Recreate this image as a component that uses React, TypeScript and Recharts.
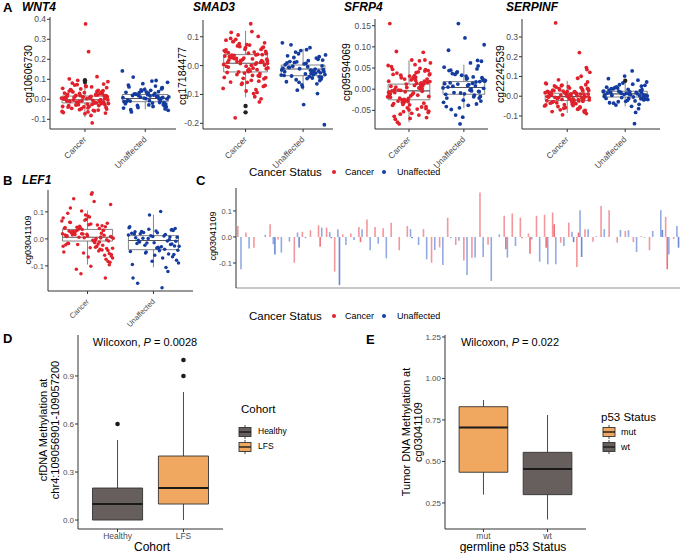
import React from "react";
import { ComposedChart, Scatter, Bar, XAxis, YAxis, ReferenceArea, ReferenceLine } from "recharts";

// ── Colours / fonts ──────────────────────────────────────────────────────────

const FONT = '"Liberation Sans", Arial, Helvetica, sans-serif';
const RED = "#e0212b";
const BLUE = "#143c9f";
const RED_BAR = "#e8414a";
const BLUE_BAR = "#3a62c9";
const ORANGE = "#f0a75f";
const DARK = "#675e5e";
const AXIS = "#333333";
const TICK = "#4d4d4d";

const STATUS = ["Cancer", "Unaffected"];

// ── Jitter offsets (shared by the dot panels) ────────────────────────────────

const JIT_C = [
  -0.31, 0.12, 0.27, -0.05, 0.36, -0.22, 0.03, 0.18, -0.38, 0.31,
  -0.14, 0.08, -0.27, 0.22, 0.35, -0.09, -0.33, 0.15, 0.01, -0.19,
  0.29, -0.02, 0.38, -0.25, 0.1, -0.36, 0.2, -0.11, 0.33, -0.07,
  0.05, -0.29, 0.24, -0.17, 0.39, -0.03, 0.14, -0.34, 0.26, -0.12,
  0.07, 0.32, -0.24, 0.17, -0.39, 0.0, 0.28, -0.15, 0.11, -0.3,
  0.21, -0.06, 0.37, -0.21, 0.04, -0.35, 0.16, 0.3, -0.1, 0.25,
  -0.28, 0.09, -0.37, 0.19, -0.01, 0.34, -0.16, 0.13, -0.26, 0.23,
  -0.08, 0.36, -0.32, 0.02, 0.27, -0.2, 0.1, -0.04, 0.31, -0.23,
  0.06, -0.37, 0.18, 0.38, -0.13, 0.22, -0.3, 0.01, 0.33, -0.18,
  0.12, -0.26, 0.29, -0.09, 0.05, -0.34, 0.2, 0.35, -0.15, 0.24,
];
const JIT_U = [
  0.21, -0.33, 0.05, 0.36, -0.12, 0.28, -0.25, 0.14, -0.04, 0.32,
  -0.37, 0.09, 0.24, -0.18, 0.38, -0.08, 0.17, -0.29, 0.02, 0.3,
  -0.21, 0.11, -0.35, 0.26, -0.01, 0.35, -0.15, 0.07, -0.27, 0.19,
  0.33, -0.1, 0.23, -0.38, 0.12, -0.06, 0.29, -0.23, 0.04, 0.37,
  -0.31, 0.16, -0.13, 0.27, -0.02, 0.34, -0.2, 0.08, -0.36, 0.22,
  0.01, -0.28, 0.31, -0.16, 0.13, -0.07, 0.39, -0.24, 0.18, -0.11,
  0.25, -0.32, 0.06, 0.28,
];

// ── Panel A / B values ───────────────────────────────────────────────────────

const WNT4_C = [
  0.012, -0.025, 0.034, -0.008, 0.058, -0.045, 0.003, 0.021, -0.061, 0.076,
  -0.014, 0.009, -0.032, 0.045, 0.018, -0.052, 0.002, -0.019, 0.067, -0.004,
  0.027, -0.038, 0.088, -0.011, 0.015, -0.066, 0.039, -0.027, 0.005, 0.052,
  -0.043, 0.024, -0.007, 0.071, -0.021, 0.011, -0.055, 0.031, -0.002, 0.095,
  -0.035, 0.017, 0.048, -0.016, 0.006, -0.072, 0.036, -0.029, 0.062, -0.009,
  0.022, -0.047, 0.013, 0.081, -0.024, 0.001, -0.058, 0.043, -0.012, 0.028,
  -0.039, 0.008, 0.055, -0.018, 0.033, -0.069, 0.016, -0.005, 0.102, -0.031,
  0.019, -0.049, 0.004, 0.064, -0.022, 0.037, -0.081, 0.012, -0.013, 0.046,
  0.238, -0.036, 0.025, -0.003, 0.073, -0.054, 0.014, 0.377, -0.027, 0.009,
  -0.118, 0.041, -0.017, 0.029, -0.063, 0.007, 0.113, -0.041, 0.02, -0.009,
];
const WNT4_U = [
  0.014, -0.022, 0.031, 0.002, -0.041, 0.057, -0.009, 0.021, 0.078, -0.033,
  0.008, 0.045, -0.016, 0.027, -0.055, 0.011, 0.066, -0.004, 0.036, -0.027,
  0.019, 0.091, -0.012, 0.004, 0.049, -0.038, 0.025, -0.007, 0.062, 0.013,
  -0.048, 0.033, 0.001, 0.142, -0.019, 0.041, 0.009, -0.063, 0.023, 0.085,
  -0.011, 0.029, -0.031, 0.052, 0.006, -0.024, 0.111, 0.017, -0.044, 0.038,
  0.003, 0.071, -0.015, 0.026, -0.036, 0.047, 0.012, -0.052, 0.094, 0.018,
  -0.006, 0.035, -0.028, 0.058,
];
const SMAD3_C = [
  0.012, -0.034, 0.056, 0.021, -0.011, 0.083, -0.058, 0.037, 0.004, -0.072,
  0.068, -0.019, 0.029, 0.101, -0.042, 0.015, -0.003, 0.047, -0.088, 0.024,
  0.061, -0.026, 0.008, 0.115, -0.051, 0.033, -0.014, 0.076, 0.002, -0.065,
  0.043, 0.019, -0.037, 0.091, -0.008, 0.026, -0.097, 0.054, 0.011, -0.022,
  0.071, -0.046, 0.036, 0.005, -0.079, 0.062, 0.017, -0.031, 0.118, -0.005,
  0.039, -0.061, 0.022, 0.084, -0.017, 0.048, -0.108, 0.013, 0.066, -0.028,
  0.031, 0.145, -0.041, 0.009, 0.057, -0.069, 0.025, -0.009, 0.094, -0.054,
  0.018, 0.042, -0.024, 0.073, -0.115, 0.035, 0.001, -0.044, 0.064, 0.027,
  -0.012, 0.052, -0.083, 0.016, 0.106, -0.035, 0.045, -0.002, 0.079, -0.181,
  0.023, -0.057, 0.038, 0.007, -0.021, 0.088, -0.093, 0.049, 0.014, -0.126,
];
const SMAD3_U = [
  -0.012, -0.034, 0.008, -0.021, -0.049, 0.031, -0.006, -0.027, 0.052, -0.041,
  -0.015, 0.017, -0.063, -0.002, -0.031, 0.041, -0.018, -0.056, 0.006, -0.025,
  0.072, -0.038, -0.009, 0.022, -0.074, -0.014, 0.011, -0.045, 0.034, -0.023,
  -0.001, -0.085, 0.026, -0.033, 0.062, -0.011, -0.052, 0.014, -0.029, -0.205,
  0.003, -0.043, 0.047, -0.019, -0.067, 0.019, -0.036, -0.004, 0.079, -0.026,
  -0.135, 0.009, -0.047, 0.028, -0.016, -0.058, 0.037, -0.007, -0.031, 0.013,
  -0.097, -0.021, 0.055, -0.039,
];
const SFRP4_C = [
  -0.004, 0.021, -0.033, 0.012, -0.052, 0.038, -0.016, 0.003, 0.056, -0.041,
  0.027, -0.009, -0.064, 0.015, 0.044, -0.024, 0.007, -0.047, 0.031, -0.002,
  0.069, -0.029, 0.018, -0.071, 0.009, -0.013, 0.049, -0.036, 0.024, -0.006,
  -0.057, 0.035, 0.001, -0.021, 0.062, -0.044, 0.014, -0.011, 0.087, -0.031,
  0.026, -0.067, 0.005, 0.041, -0.018, -0.049, 0.019, -0.003, 0.058, -0.038,
  0.011, -0.026, 0.034, -0.078, 0.022, 0.155, -0.014, 0.046, -0.053, 0.008,
  -0.034, 0.029, -0.007, 0.067, -0.022, 0.016, -0.059, 0.039, -0.001, -0.042,
  0.024, -0.017, 0.053, -0.069, 0.013, -0.028, 0.032, 0.004, -0.046, 0.089,
  -0.012, 0.019, -0.061, 0.036, -0.025, 0.006, 0.047, -0.037, 0.017, -0.082,
  0.028, -0.008, 0.043, -0.031, 0.069, -0.019, 0.002, -0.055, 0.033, -0.005,
];
const SFRP4_U = [
  0.008, -0.012, 0.024, 0.002, 0.041, -0.021, 0.015, -0.004, 0.033, 0.066,
  -0.031, 0.011, 0.048, -0.008, 0.019, -0.044, 0.029, 0.005, 0.121, -0.017,
  0.037, -0.002, 0.013, 0.055, -0.026, 0.022, -0.061, 0.009, 0.044, -0.014,
  0.027, 0.155, -0.035, 0.003, 0.062, -0.009, 0.018, -0.048, 0.031, 0.105,
  -0.021, 0.014, 0.039, -0.005, -0.066, 0.025, 0.007, -0.038, 0.052, 0.017,
  -0.011, 0.092, -0.028, 0.035, 0.001, -0.082, 0.021, 0.045, -0.018, 0.012,
  0.068, -0.041, 0.026, -0.006,
];
const SERPINF_C = [
  0.004, -0.021, 0.027, -0.043, 0.011, 0.052, -0.012, -0.066, 0.018, -0.003,
  0.038, -0.029, 0.008, -0.054, 0.072, -0.016, 0.022, -0.038, 0.001, 0.046,
  -0.075, 0.015, -0.008, 0.031, -0.047, 0.063, -0.024, 0.006, -0.088, 0.026,
  0.009, -0.035, 0.044, -0.011, 0.121, -0.058, 0.017, -0.002, 0.034, -0.069,
  0.012, 0.058, -0.027, 0.003, -0.049, 0.024, -0.015, 0.083, -0.036, 0.007,
  0.221, -0.061, 0.029, -0.006, 0.041, -0.023, 0.014, -0.081, 0.053, -0.009,
  0.019, -0.041, 0.066, -0.018, 0.002, 0.135, -0.052, 0.023, -0.031, 0.011,
  -0.094, 0.036, -0.004, 0.048, -0.026, 0.371, -0.013, 0.016, -0.072, 0.028,
  0.005, -0.044, 0.091, -0.019, 0.032, -0.057, 0.013, -0.001, 0.145, -0.033,
  0.021, -0.078, 0.009, 0.056, -0.014, 0.025, -0.063, 0.039, -0.007, 0.101,
];
const SERPINF_U = [
  0.012, -0.011, 0.034, 0.003, -0.028, 0.051, 0.018, -0.004, 0.067, -0.019,
  0.026, 0.008, -0.041, 0.043, 0.001, 0.021, -0.024, 0.089, 0.014, -0.009,
  0.037, -0.051, 0.006, 0.028, 0.102, -0.015, 0.047, 0.011, -0.033, 0.019,
  -0.002, 0.058, -0.063, 0.024, 0.128, -0.007, 0.033, 0.004, -0.021, 0.072,
  0.016, -0.139, 0.041, -0.013, 0.009, 0.055, -0.035, 0.022, -0.001, 0.081,
  -0.026, 0.031, 0.007, -0.045, 0.061, 0.015, -0.017, 0.038, -0.082, 0.025,
  0.002, 0.046, -0.011, 0.019,
];
const LEF1_C = [
  0.012, -0.031, 0.045, 0.004, -0.058, 0.027, 0.081, -0.012, 0.019, -0.084,
  0.036, -0.005, 0.062, -0.041, 0.009, 0.103, -0.022, 0.051, -0.067, 0.016,
  -0.003, 0.073, -0.035, 0.024, 0.138, -0.049, 0.007, 0.041, -0.096, 0.018,
  0.055, -0.017, 0.031, -0.112, 0.002, 0.088, -0.028, 0.014, -0.061, 0.047,
  0.171, -0.008, 0.026, -0.045, 0.066, 0.011, -0.075, 0.033, -0.014, 0.095,
  0.021, -0.052, 0.005, 0.149, -0.033, 0.039, -0.019, 0.058, -0.129, 0.013,
  0.029, -0.006, 0.077, -0.038, 0.017, -0.087, 0.043, 0.001, 0.114, -0.024,
  0.035, -0.063, 0.009, 0.052, -0.145, 0.023, -0.011, 0.069, -0.043, 0.015,
  0.165, -0.027, 0.038, -0.071, 0.006, 0.049, -0.016, 0.084, -0.054, 0.028,
  -0.004, 0.061, -0.036, 0.019, -0.101, 0.042, 0.003, 0.127, -0.021, 0.032,
];
const LEF1_U = [
  -0.008, 0.021, -0.034, 0.006, -0.052, 0.035, -0.017, -0.071, 0.012, -0.026,
  0.041, -0.044, -0.003, 0.027, -0.089, 0.001, -0.038, 0.018, -0.061, 0.031,
  -0.012, 0.101, -0.047, -0.021, 0.009, -0.079, 0.024, -0.031, 0.004, -0.106,
  0.038, -0.015, -0.056, 0.014, -0.029, 0.088, -0.066, -0.005, 0.029, -0.042,
  -0.145, 0.011, -0.024, 0.033, -0.083, -0.009, 0.019, -0.036, 0.045, -0.121,
  -0.014, 0.026, -0.058, 0.002, -0.181, 0.036, -0.027, -0.164, 0.016, -0.049,
  0.007, -0.095, 0.023, -0.019,
];

// box stats: [lower whisker, q1, median, q3, upper whisker]
const WNT4_BOX = [[-0.09, -0.018, -0.002, 0.016, 0.076], [-0.05, -0.012, 0.004, 0.024, 0.062]];
const SMAD3_BOX = [[-0.11, -0.022, 0.008, 0.038, 0.12], [-0.085, -0.035, -0.012, 0.002, 0.058]];
const SFRP4_BOX = [[-0.078, -0.025, -0.004, 0.012, 0.068], [-0.045, -0.012, 0.004, 0.018, 0.058]];
const SERPINF_BOX = [[-0.085, -0.022, -0.002, 0.015, 0.078], [-0.052, -0.004, 0.012, 0.025, 0.08]];
const LEF1_BOX = [[-0.095, -0.008, 0.006, 0.035, 0.105], [-0.105, -0.04, -0.006, 0.012, 0.09]];

const WNT4_OUT = [{ x: 1, y: 0.095 }, { x: 1, y: 0.086 }];
const SMAD3_OUT = [{ x: 1, y: -0.14 }, { x: 1, y: -0.162 }];
const SERPINF_OUT = [{ x: 2, y: 0.078 }];

// ── Panel C values (per site, two cancer / two unaffected traces) ────────────

const C_C1 = [
  0.042, 0.017, -0.041, null, 0.049, -0.01, null, -0.099, 0.02, 0.026,
  0.045, 0.036, -0.133, 0.01, 0.013, 0.038, 0.067, 0.038, 0.033, 0.055,
  -0.051, 0.042, null, 0.03, -0.099, -0.04, 0.074, -0.031, -0.09, -0.08,
  0.171, -0.03, null, 0.081, 0.09, 0.074, 0.013, 0.081, 0.085, 0.094,
  -0.022, 0.055, -0.115, 0.03, -0.018, 0.119, 0.103, -0.022, 0.023, -0.02,
  0.003, -0.051, null, 0.077, -0.008,
];
const C_C2 = [
  null, null, null, null, null, null, null, null, null, null,
  -0.038, null, null, null, null, -0.02, null, null, null, null,
  null, null, null, null, null, null, null, null, null, null,
  null, null, null, -0.047, null, -0.005, -0.064, null, -0.041, 0.049,
  null, null, 0.017, null, null, null, null, null, null, null,
  null, null, null, -0.124, null,
];
const C_U1 = [
  -0.124, -0.044, null, 0.008, -0.028, -0.06, -0.018, 0.017, -0.005, null,
  0.036, 0.018, 0.03, -0.031, -0.012, 0.03, -0.051, -0.026, -0.082, null,
  null, 0.03, -0.031, -0.086, -0.05, -0.108, -0.005, -0.015, -0.146, -0.079,
  -0.077, -0.169, 0.01, -0.079, -0.035, null, -0.01, -0.095, -0.105, -0.105,
  -0.035, 0.02, 0.103, 0.03, 0.003, 0.03, null, 0.027, 0.026, -0.058,
  -0.003, 0.023, 0.103, -0.067, 0.042,
];
const C_U2 = [
  null, null, null, null, -0.067, null, null, -0.04, null, null,
  null, -0.005, -0.185, null, null, null, null, null, null, null,
  null, -0.005, null, null, null, null, null, null, null, null,
  null, null, null, null, null, null, null, null, null, null,
  null, -0.02, -0.077, null, null, null, null, null, null, null,
  null, null, 0.027, null, -0.041,
];

// ── Panels D / E values ──────────────────────────────────────────────────────

const D_GROUPS = ["Healthy", "LFS"];
const D_STATS = [[0, 0, 0.1, 0.2, 0.5], [0, 0.1, 0.2, 0.4, 0.8]];
const D_OUT = [{ x: 1, y: 0.6 }, { x: 2, y: 0.9 }, { x: 2, y: 1.0 }];

const E_GROUPS = ["mut", "wt"];
const E_STATS = [[0.3, 0.435, 0.705, 0.83, 0.87], [0.15, 0.3, 0.455, 0.555, 0.78]];

// ── Helpers ──────────────────────────────────────────────────────────────────

const toPts = (ys: number[], jit: number[], cx: number) =>
  ys.map((y, i) => ({ x: cx + jit[i % jit.length], y }));

const dot = (r: number, color: string) => (p: any) =>
  p.cx == null ? <g /> : <circle cx={p.cx} cy={p.cy} r={r} fill={color} />;

function boxMarks(key: string, cx: number, s: number[], hw: number, stroke: string, fill: string, sw: number, medStroke: string, medW: number) {
  const [lo, q1, med, q3, hi] = s;
  return [
    <ReferenceLine key={key + "w1"} segment={[{ x: cx, y: lo }, { x: cx, y: q1 }]} stroke={stroke} strokeWidth={sw} />,
    <ReferenceLine key={key + "w2"} segment={[{ x: cx, y: q3 }, { x: cx, y: hi }]} stroke={stroke} strokeWidth={sw} />,
    <ReferenceArea key={key + "b"} x1={cx - hw} x2={cx + hw} y1={q1} y2={q3} fill={fill} fillOpacity={fill === "none" ? 0 : 1} stroke={stroke} strokeWidth={sw} />,
    <ReferenceLine key={key + "m"} segment={[{ x: cx - hw, y: med }, { x: cx + hw, y: med }]} stroke={medStroke} strokeWidth={medW} />,
  ];
}

const rotTick = (size: number, labels: string[]) => (p: any) => {
  const ax = p.x + 2;
  const ay = p.y + 6;
  return (
    <text x={ax} y={ay} textAnchor="end" fontSize={size} fill={TICK} fontFamily={FONT} transform={`rotate(-45 ${ax} ${ay})`}>
      {labels[p.payload.value - 1]}
    </text>
  );
};

function Txt({ x, y, size = 11, children, anchor = "start", rot = false, bold = false, italic = false, color = "#000" }: any) {
  const tx = anchor === "middle" ? "-50%" : "0";
  return (
    <div
      style={{
        position: "absolute", left: x, top: y, fontSize: size, fontWeight: bold ? 700 : 400,
        fontStyle: italic ? "italic" : "normal", color, whiteSpace: "nowrap", lineHeight: 1.12,
        textAlign: "center",
        transform: rot ? "translate(-50%,-50%) rotate(-90deg)" : `translate(${tx},-50%)`,
      }}
    >
      {children}
    </div>
  );
}

// ── Panel A / B dot plots ────────────────────────────────────────────────────

const A_PANELS = [
  { plot: [50, 176, 17, 129], xDom: [0.42, 2.51], yDom: [-0.1485, 0.4115], yTicks: [-0.1, 0, 0.1, 0.2, 0.3, 0.4], digits: 1, c: WNT4_C, u: WNT4_U, box: WNT4_BOX, out: WNT4_OUT, yFont: 8.5, xFont: 8.5, r: 1.9, xh: 48 },
  { plot: [203, 333, 20, 129], xDom: [0.26, 2.52], yDom: [-0.2197, 0.158], yTicks: [-0.2, -0.1, 0, 0.1], digits: 1, c: SMAD3_C, u: SMAD3_U, box: SMAD3_BOX, out: SMAD3_OUT, yFont: 8.5, xFont: 8.5, r: 1.9, xh: 48 },
  { plot: [375, 488, 19, 129], xDom: [0.38, 2.44], yDom: [-0.094, 0.1658], yTicks: [-0.05, 0, 0.05, 0.1, 0.15], digits: 2, c: SFRP4_C, u: SFRP4_U, box: SFRP4_BOX, out: [], yFont: 8.5, xFont: 8.5, r: 1.9, xh: 48 },
  { plot: [522, 660, 19, 129], xDom: [0.22, 2.6], yDom: [-0.166, 0.391], yTicks: [-0.1, 0, 0.1, 0.2, 0.3], digits: 1, c: SERPINF_C, u: SERPINF_U, box: SERPINF_BOX, out: SERPINF_OUT, yFont: 8.5, xFont: 8.5, r: 1.9, xh: 48 },
  { plot: [48, 193, 190, 291], xDom: [0.4, 2.6], yDom: [-0.193, 0.181], yTicks: [-0.1, 0, 0.1], digits: 1, c: LEF1_C, u: LEF1_U, box: LEF1_BOX, out: [], yFont: 7.5, xFont: 7.5, r: 1.75, xh: 40 },
];

function JitterPanel({ p, id }: any) {
  const [x0, x1, y0, y1] = p.plot;
  const yw = 32, mt = 4, mr = 4;
  return (
    <div style={{ position: "absolute", left: x0 - yw, top: y0 - mt }}>
      <ComposedChart width={yw + x1 - x0 + mr} height={mt + y1 - y0 + p.xh} margin={{ top: mt, right: mr, bottom: 0, left: 0 }}>
        <XAxis type="number" dataKey="x" domain={p.xDom} ticks={[1, 2]} allowDataOverflow interval={0}
          height={p.xh} stroke={AXIS} tickSize={3} tick={rotTick(p.xFont, STATUS)} />
        <YAxis type="number" dataKey="y" domain={p.yDom} ticks={p.yTicks} allowDataOverflow interval={0}
          width={yw} stroke={AXIS} tickSize={3} tickMargin={1} tick={{ fontSize: p.yFont, fill: TICK, fontFamily: FONT }}
          tickFormatter={(v: number) => v.toFixed(p.digits)} />
        <Scatter data={toPts(p.c, JIT_C, 1)} fill={RED} shape={dot(p.r, RED)} isAnimationActive={false} />
        <Scatter data={toPts(p.u, JIT_U, 2)} fill={BLUE} shape={dot(p.r, BLUE)} isAnimationActive={false} />
        {boxMarks(id + "c", 1, p.box[0], 0.38, "#666", "none", 0.8, "#555", 1.1)}
        {boxMarks(id + "u", 2, p.box[1], 0.38, "#666", "none", 0.8, "#555", 1.1)}
        <Scatter data={p.out} fill="#222" shape={dot(p.r + 0.3, "#222")} isAnimationActive={false} />
      </ComposedChart>
    </div>
  );
}

// ── Panel C ──────────────────────────────────────────────────────────────────

const C_ROWS = C_C1.map((v, i) => ({ site: i + 1, c1: v, c2: C_C2[i], u1: C_U1[i], u2: C_U2[i] }));

function SitePanel() {
  const x0 = 236, x1 = 680, y0 = 188, y1 = 288, yw = 30, mt = 4;
  return (
    <div style={{ position: "absolute", left: x0 - yw, top: y0 - mt }}>
      <ComposedChart width={yw + x1 - x0} height={mt + y1 - y0 + 2} data={C_ROWS} barGap={0}
        margin={{ top: mt, right: 0, bottom: 0, left: 0 }}>
        <XAxis dataKey="site" height={2} tick={false} tickLine={false} axisLine={{ stroke: "#c8c8c8", strokeWidth: 2 }} />
        <YAxis type="number" domain={[-0.196, 0.188]} ticks={[-0.1, 0, 0.1]} allowDataOverflow interval={0}
          width={yw} stroke={AXIS} tickSize={3} tickMargin={1} tick={{ fontSize: 7.5, fill: TICK, fontFamily: FONT }}
          tickFormatter={(v: number) => v.toFixed(1)} />
        <Bar dataKey="c1" fill={RED_BAR} fillOpacity={0.55} barSize={1.6} isAnimationActive={false} />
        <Bar dataKey="c2" fill={RED_BAR} fillOpacity={0.75} barSize={1.6} isAnimationActive={false} />
        <Bar dataKey="u1" fill={BLUE_BAR} fillOpacity={0.55} barSize={1.6} isAnimationActive={false} />
        <Bar dataKey="u2" fill={BLUE_BAR} fillOpacity={0.75} barSize={1.6} isAnimationActive={false} />
      </ComposedChart>
    </div>
  );
}

// ── Panels D / E box plots ───────────────────────────────────────────────────

function BoxPanel({ plot, yDom, yTicks, digits, groups, stats, fills, out, id }: any) {
  const [x0, x1, y0, y1] = plot;
  const yw = 30, mt = 4, mr = 4, xh = 18;
  return (
    <div style={{ position: "absolute", left: x0 - yw, top: y0 - mt }}>
      <ComposedChart width={yw + x1 - x0 + mr} height={mt + y1 - y0 + xh} margin={{ top: mt, right: mr, bottom: 0, left: 0 }}>
        <XAxis type="number" dataKey="x" domain={[0.4, 2.6]} ticks={[1, 2]} allowDataOverflow interval={0}
          height={xh} stroke={AXIS} tickSize={3} tickMargin={1} tick={{ fontSize: 8.5, fill: TICK, fontFamily: FONT }}
          tickFormatter={(v: number) => groups[v - 1]} />
        <YAxis type="number" dataKey="y" domain={yDom} ticks={yTicks} allowDataOverflow interval={0}
          width={yw} stroke={AXIS} tickSize={3} tickMargin={1} tick={{ fontSize: 8, fill: TICK, fontFamily: FONT }}
          tickFormatter={(v: number) => v.toFixed(digits)} />
        {boxMarks(id + "1", 1, stats[0], 0.38, "#333", fills[0], 0.9, "#1a1a1a", 2)}
        {boxMarks(id + "2", 2, stats[1], 0.38, "#333", fills[1], 0.9, "#1a1a1a", 2)}
        <Scatter data={out} fill="#1a1a1a" shape={dot(2.3, "#1a1a1a")} isAnimationActive={false} />
      </ComposedChart>
    </div>
  );
}

function KeyIcon({ x, y, fill }: any) {
  return (
    <svg style={{ position: "absolute", left: x, top: y - 7 }} width={15} height={14}>
      <line x1={7} y1={0} x2={7} y2={2.5} stroke="#333" strokeWidth={0.9} />
      <rect x={1} y={2.5} width={12} height={9} fill={fill} stroke="#333" strokeWidth={0.9} />
      <line x1={1} y1={7} x2={13} y2={7} stroke="#1a1a1a" strokeWidth={1.4} />
      <line x1={7} y1={11.5} x2={7} y2={14} stroke="#333" strokeWidth={0.9} />
    </svg>
  );
}

function StatusLegend({ y }: any) {
  return (
    <>
      <Txt x={249} y={y} size={11.5}>Cancer Status</Txt>
      <div style={{ position: "absolute", left: 332, top: y - 2, width: 4, height: 4, borderRadius: 2, background: RED }} />
      <Txt x={345} y={y} size={9}>Cancer</Txt>
      <div style={{ position: "absolute", left: 382, top: y - 2, width: 4, height: 4, borderRadius: 2, background: BLUE }} />
      <Txt x={397} y={y} size={9}>Unaffected</Txt>
    </>
  );
}

// ── Main component ───────────────────────────────────────────────────────────

export default function App() {
  return (
    <div style={{ position: "relative", width: 680, height: 553, background: "#fff", fontFamily: FONT, overflow: "hidden" }}>
      <style>{"body{margin:0}"}</style>

      {/* panel titles */}
      <Txt x={3} y={8} size={13} bold>A</Txt>
      <Txt x={22} y={8} size={12} bold italic>WNT4</Txt>
      <Txt x={193} y={8} size={12} bold italic>SMAD3</Txt>
      <Txt x={344} y={8} size={12} bold italic>SFRP4</Txt>
      <Txt x={506} y={8} size={12} bold italic>SERPINF</Txt>
      <Txt x={3} y={181} size={13} bold>B</Txt>
      <Txt x={22} y={181} size={12} bold italic>LEF1</Txt>
      <Txt x={196} y={181} size={13} bold>C</Txt>
      <Txt x={3} y={339} size={13} bold>D</Txt>
      <Txt x={366} y={340} size={13} bold>E</Txt>

      {/* axis titles */}
      <Txt x={29} y={74} size={10.5} rot>cg10606730</Txt>
      <Txt x={183} y={76} size={10.5} rot>cg17184477</Txt>
      <Txt x={347} y={72} size={10.5} rot>cg09594069</Txt>
      <Txt x={501} y={74} size={10.5} rot>cg22242539</Txt>
      <Txt x={28} y={240} size={9} rot>cg03041109</Txt>
      <Txt x={213} y={236} size={9} rot>cg03041109</Txt>

      {A_PANELS.map((p, i) => <JitterPanel key={i} p={p} id={"a" + i} />)}
      <SitePanel />

      <StatusLegend y={172} />
      <StatusLegend y={316} />

      {/* panel D */}
      <BoxPanel id="d" plot={[78, 223, 335, 529]} yDom={[-0.056, 1.156]} yTicks={[0, 0.3, 0.6, 0.9]} digits={1}
        groups={D_GROUPS} stats={D_STATS} fills={[DARK, ORANGE]} out={D_OUT} />
      <Txt x={145} y={342} size={11} anchor="middle">Wilcoxon, <i>P</i> = 0.0028</Txt>
      <Txt x={49} y={430} size={11} rot>cfDNA Methylation at<br />chr4:109056901-109057200</Txt>
      <Txt x={152} y={548} size={12} anchor="middle">Cohort</Txt>
      <Txt x={241} y={409} size={11.5}>Cohort</Txt>
      <KeyIcon x={238} y={432} fill={DARK} />
      <Txt x={258} y={432} size={8.5}>Healthy</Txt>
      <KeyIcon x={238} y={447} fill={ORANGE} />
      <Txt x={258} y={447} size={8.5}>LFS</Txt>

      {/* panel E */}
      <BoxPanel id="e" plot={[445, 586, 335, 529]} yDom={[0.093, 1.262]} yTicks={[0.25, 0.5, 0.75, 1, 1.25]} digits={2}
        groups={E_GROUPS} stats={E_STATS} fills={[ORANGE, DARK]} out={[]} />
      <Txt x={510} y={342} size={11} anchor="middle">Wilcoxon, <i>P</i> = 0.022</Txt>
      <Txt x={412} y={432} size={11} rot>Tumor DNA Methylation at<br />cg03041109</Txt>
      <Txt x={513} y={548} size={12} anchor="middle">germline p53 Status</Txt>
      <Txt x={601} y={417} size={11.5}>p53 Status</Txt>
      <KeyIcon x={602} y={432} fill={ORANGE} />
      <Txt x={621} y={432} size={9}>mut</Txt>
      <KeyIcon x={602} y={447} fill={DARK} />
      <Txt x={621} y={447} size={9}>wt</Txt>
    </div>
  );
}
